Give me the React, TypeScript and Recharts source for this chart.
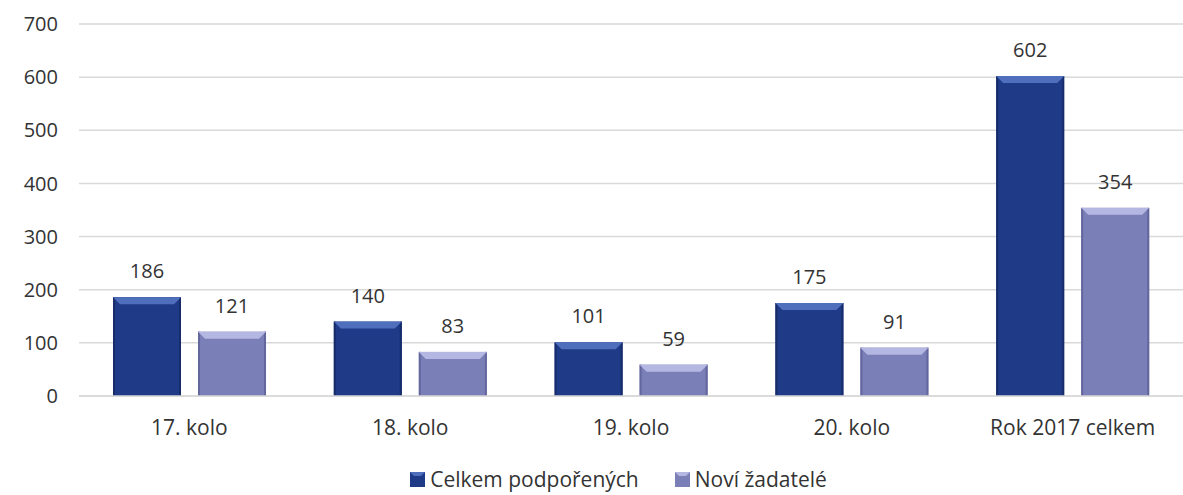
import React from 'react';
import { BarChart, Bar, XAxis, YAxis, CartesianGrid, Legend, LabelList } from 'recharts';

const categories = ['17. kolo', '18. kolo', '19. kolo', '20. kolo', 'Rok 2017 celkem'];
const celkemPodporenych = [186, 140, 101, 175, 602];
const noviZadatele = [121, 83, 59, 91, 354];
const yTicks = [0, 100, 200, 300, 400, 500, 600, 700];

const data = categories.map((name, i) => ({
  name,
  celkem: celkemPodporenych[i],
  novi: noviZadatele[i],
}));

const FONT = '"Open Sans", sans-serif';
const TEXT = '#333333';

const palette: Record<string, { base: string; top: string; side: string }> = {
  celkem: { base: '#1f3b87', top: '#4f6fbd', side: '#172d6b' },
  novi: { base: '#7b7fb8', top: '#b4b7e2', side: '#63679e' },
};

// bar with a bevelled top edge, like the office 3D preset
function BevelBar(props: any) {
  const { x, y, width, height, dataKey } = props;
  if (!height || height <= 0) return null;
  const c = palette[dataKey] || palette.celkem;
  const b = Math.min(7, height / 2);
  return (
    <g>
      <rect x={x} y={y} width={width} height={height} fill={c.base} />
      <rect x={x} y={y} width={2} height={height} fill={c.side} />
      <rect x={x + width - 2} y={y} width={2} height={height} fill={c.side} />
      <polygon
        points={`${x},${y} ${x + width},${y} ${x + width - b},${y + b} ${x + b},${y + b}`}
        fill={c.top}
      />
    </g>
  );
}

function LegendContent() {
  const items = [
    { key: 'celkem', label: 'Celkem podpořených' },
    { key: 'novi', label: 'Noví žadatelé' },
  ];
  return (
    <div style={{ display: 'flex', justifyContent: 'center', paddingLeft: 54, fontFamily: FONT, fontSize: 21, color: TEXT, lineHeight: '28px' }}>
      {items.map((it) => {
        const c = palette[it.key];
        return (
          <div key={it.key} style={{ display: 'flex', alignItems: 'center', margin: '0 18px' }}>
            <svg width={15} height={15} style={{ marginRight: 5 }}>
              <rect x={0} y={0} width={15} height={15} fill={c.base} />
              <polygon points="0,0 15,0 11,4 4,4" fill={c.top} />
            </svg>
            <span>{it.label}</span>
          </div>
        );
      })}
    </div>
  );
}

export default function App() {
  return (
    <div style={{ position: 'absolute', left: 0, top: 0 }}>
      <BarChart
        width={1183}
        height={495}
        data={data}
        margin={{ top: 24, right: 0, left: 0, bottom: 0 }}
        barCategoryGap="15.4%"
        barGap={17}
      >
        <CartesianGrid vertical={false} stroke="#d9d9d9" strokeWidth={1.5} />
        <XAxis
          dataKey="name"
          axisLine={{ stroke: '#d9d9d9', strokeWidth: 1.5 }}
          tickLine={false}
          tickMargin={18}
          height={69}
          interval={0}
          tick={{ fill: TEXT, fontSize: 21, fontFamily: FONT }}
        />
        <YAxis
          domain={[0, 700]}
          ticks={yTicks}
          axisLine={false}
          tickLine={false}
          width={79}
          tickMargin={15}
          tick={{ fill: TEXT, fontSize: 20, fontFamily: FONT }}
        />
        <Legend verticalAlign="bottom" height={30} content={<LegendContent />} />
        <Bar dataKey="celkem" name="Celkem podpořených" fill="#1f3b87" shape={<BevelBar />} isAnimationActive={false}>
          <LabelList dataKey="celkem" position="top" offset={19} fill={TEXT} fontSize={20} fontFamily={FONT} />
        </Bar>
        <Bar dataKey="novi" name="Noví žadatelé" fill="#7b7fb8" shape={<BevelBar />} isAnimationActive={false}>
          <LabelList dataKey="novi" position="top" offset={19} fill={TEXT} fontSize={20} fontFamily={FONT} />
        </Bar>
      </BarChart>
    </div>
  );
}
